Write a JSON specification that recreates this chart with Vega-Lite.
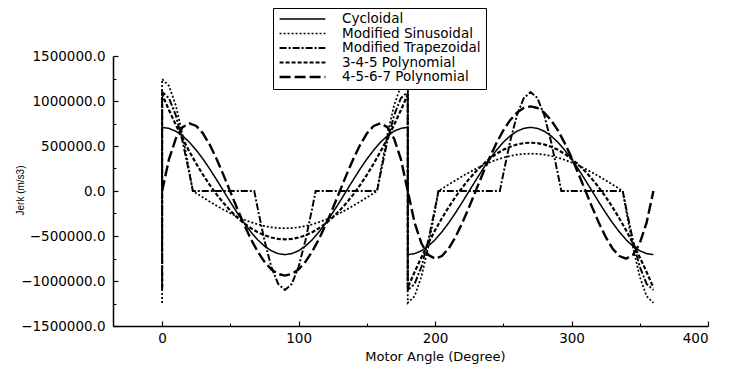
{
  "$schema": "https://vega.github.io/schema/vega-lite/v6.json",
  "width": 595,
  "height": 270,
  "autosize": {"type": "none"},
  "padding": {"left": 113, "top": 56, "right": 35, "bottom": 44},
  "background": "white",
  "config": {
    "view": {"stroke": null},
    "font": "DejaVu Sans"
  },
  "data": {"values": [
    {"s":"C","a":0,"j":-707000,"o":-1},
    {"s":"C","a":0,"j":707000,"o":0},{"s":"C","a":5,"j":696000,"o":5},{"s":"C","a":10,"j":664000,"o":10},{"s":"C","a":15,"j":612000,"o":15},{"s":"C","a":20,"j":542000,"o":20},{"s":"C","a":25,"j":454000,"o":25},{"s":"C","a":30,"j":354000,"o":30},{"s":"C","a":35,"j":242000,"o":35},{"s":"C","a":40,"j":123000,"o":40},{"s":"C","a":45,"j":0,"o":45},{"s":"C","a":50,"j":-123000,"o":50},{"s":"C","a":55,"j":-242000,"o":55},{"s":"C","a":60,"j":-354000,"o":60},{"s":"C","a":65,"j":-454000,"o":65},{"s":"C","a":70,"j":-542000,"o":70},{"s":"C","a":75,"j":-612000,"o":75},{"s":"C","a":80,"j":-664000,"o":80},{"s":"C","a":85,"j":-696000,"o":85},{"s":"C","a":90,"j":-707000,"o":90},{"s":"C","a":95,"j":-696000,"o":95},{"s":"C","a":100,"j":-664000,"o":100},{"s":"C","a":105,"j":-612000,"o":105},{"s":"C","a":110,"j":-542000,"o":110},{"s":"C","a":115,"j":-454000,"o":115},{"s":"C","a":120,"j":-354000,"o":120},{"s":"C","a":125,"j":-242000,"o":125},{"s":"C","a":130,"j":-123000,"o":130},{"s":"C","a":135,"j":0,"o":135},{"s":"C","a":140,"j":123000,"o":140},{"s":"C","a":145,"j":242000,"o":145},{"s":"C","a":150,"j":354000,"o":150},{"s":"C","a":155,"j":454000,"o":155},{"s":"C","a":160,"j":542000,"o":160},{"s":"C","a":165,"j":612000,"o":165},{"s":"C","a":170,"j":664000,"o":170},{"s":"C","a":175,"j":696000,"o":175},{"s":"C","a":180,"j":707000,"o":180},
    {"s":"C","a":180,"j":-707000,"o":180.5},{"s":"C","a":185,"j":-696000,"o":185},{"s":"C","a":190,"j":-664000,"o":190},{"s":"C","a":195,"j":-612000,"o":195},{"s":"C","a":200,"j":-542000,"o":200},{"s":"C","a":205,"j":-454000,"o":205},{"s":"C","a":210,"j":-354000,"o":210},{"s":"C","a":215,"j":-242000,"o":215},{"s":"C","a":220,"j":-123000,"o":220},{"s":"C","a":225,"j":0,"o":225},{"s":"C","a":230,"j":123000,"o":230},{"s":"C","a":235,"j":242000,"o":235},{"s":"C","a":240,"j":354000,"o":240},{"s":"C","a":245,"j":454000,"o":245},{"s":"C","a":250,"j":542000,"o":250},{"s":"C","a":255,"j":612000,"o":255},{"s":"C","a":260,"j":664000,"o":260},{"s":"C","a":265,"j":696000,"o":265},{"s":"C","a":270,"j":707000,"o":270},{"s":"C","a":275,"j":696000,"o":275},{"s":"C","a":280,"j":664000,"o":280},{"s":"C","a":285,"j":612000,"o":285},{"s":"C","a":290,"j":542000,"o":290},{"s":"C","a":295,"j":454000,"o":295},{"s":"C","a":300,"j":354000,"o":300},{"s":"C","a":305,"j":242000,"o":305},{"s":"C","a":310,"j":123000,"o":310},{"s":"C","a":315,"j":0,"o":315},{"s":"C","a":320,"j":-123000,"o":320},{"s":"C","a":325,"j":-242000,"o":325},{"s":"C","a":330,"j":-354000,"o":330},{"s":"C","a":335,"j":-454000,"o":335},{"s":"C","a":340,"j":-542000,"o":340},{"s":"C","a":345,"j":-612000,"o":345},{"s":"C","a":350,"j":-664000,"o":350},{"s":"C","a":355,"j":-696000,"o":355},{"s":"C","a":360,"j":-707000,"o":360},

    {"s":"MS","a":0,"j":-1243500,"o":-1},
    {"s":"MS","a":0,"j":1243500,"o":0},{"s":"MS","a":5,"j":1168500,"o":5},{"s":"MS","a":10,"j":952500,"o":10},{"s":"MS","a":15,"j":621800,"o":15},{"s":"MS","a":20,"j":215900,"o":20},{"s":"MS","a":22.5,"j":0,"o":22.5},{"s":"MS","a":25,"j":-24100,"o":25},{"s":"MS","a":30,"j":-72000,"o":30},{"s":"MS","a":35,"j":-118900,"o":35},{"s":"MS","a":40,"j":-164200,"o":40},{"s":"MS","a":45,"j":-207300,"o":45},{"s":"MS","a":50,"j":-247500,"o":50},{"s":"MS","a":55,"j":-284500,"o":55},{"s":"MS","a":60,"j":-317500,"o":60},{"s":"MS","a":65,"j":-346300,"o":65},{"s":"MS","a":70,"j":-370400,"o":70},{"s":"MS","a":75,"j":-389500,"o":75},{"s":"MS","a":80,"j":-403300,"o":80},{"s":"MS","a":85,"j":-411700,"o":85},{"s":"MS","a":90,"j":-414500,"o":90},{"s":"MS","a":95,"j":-411700,"o":95},{"s":"MS","a":100,"j":-403300,"o":100},{"s":"MS","a":105,"j":-389500,"o":105},{"s":"MS","a":110,"j":-370400,"o":110},{"s":"MS","a":115,"j":-346300,"o":115},{"s":"MS","a":120,"j":-317500,"o":120},{"s":"MS","a":125,"j":-284500,"o":125},{"s":"MS","a":130,"j":-247500,"o":130},{"s":"MS","a":135,"j":-207300,"o":135},{"s":"MS","a":140,"j":-164200,"o":140},{"s":"MS","a":145,"j":-118900,"o":145},{"s":"MS","a":150,"j":-72000,"o":150},{"s":"MS","a":155,"j":-24100,"o":155},{"s":"MS","a":157.5,"j":0,"o":157.5},{"s":"MS","a":160,"j":215900,"o":160},{"s":"MS","a":165,"j":621800,"o":165},{"s":"MS","a":170,"j":952500,"o":170},{"s":"MS","a":175,"j":1168500,"o":175},{"s":"MS","a":180,"j":1243500,"o":180},
    {"s":"MS","a":180,"j":-1243500,"o":180.5},{"s":"MS","a":185,"j":-1168500,"o":185},{"s":"MS","a":190,"j":-952500,"o":190},{"s":"MS","a":195,"j":-621800,"o":195},{"s":"MS","a":200,"j":-215900,"o":200},{"s":"MS","a":202.5,"j":0,"o":202.5},{"s":"MS","a":205,"j":24100,"o":205},{"s":"MS","a":210,"j":72000,"o":210},{"s":"MS","a":215,"j":118900,"o":215},{"s":"MS","a":220,"j":164200,"o":220},{"s":"MS","a":225,"j":207300,"o":225},{"s":"MS","a":230,"j":247500,"o":230},{"s":"MS","a":235,"j":284500,"o":235},{"s":"MS","a":240,"j":317500,"o":240},{"s":"MS","a":245,"j":346300,"o":245},{"s":"MS","a":250,"j":370400,"o":250},{"s":"MS","a":255,"j":389500,"o":255},{"s":"MS","a":260,"j":403300,"o":260},{"s":"MS","a":265,"j":411700,"o":265},{"s":"MS","a":270,"j":414500,"o":270},{"s":"MS","a":275,"j":411700,"o":275},{"s":"MS","a":280,"j":403300,"o":280},{"s":"MS","a":285,"j":389500,"o":285},{"s":"MS","a":290,"j":370400,"o":290},{"s":"MS","a":295,"j":346300,"o":295},{"s":"MS","a":300,"j":317500,"o":300},{"s":"MS","a":305,"j":284500,"o":305},{"s":"MS","a":310,"j":247500,"o":310},{"s":"MS","a":315,"j":207300,"o":315},{"s":"MS","a":320,"j":164200,"o":320},{"s":"MS","a":325,"j":118900,"o":325},{"s":"MS","a":330,"j":72000,"o":330},{"s":"MS","a":335,"j":24100,"o":335},{"s":"MS","a":337.5,"j":0,"o":337.5},{"s":"MS","a":340,"j":-215900,"o":340},{"s":"MS","a":345,"j":-621800,"o":345},{"s":"MS","a":350,"j":-952500,"o":350},{"s":"MS","a":355,"j":-1168500,"o":355},{"s":"MS","a":360,"j":-1243500,"o":360},

    {"s":"MT","a":0,"j":-1099000,"o":-1},
    {"s":"MT","a":0,"j":1099000,"o":0},{"s":"MT","a":5,"j":1032700,"o":5},{"s":"MT","a":10,"j":841800,"o":10},{"s":"MT","a":15,"j":549500,"o":15},{"s":"MT","a":20,"j":190800,"o":20},{"s":"MT","a":22.5,"j":0,"o":22.5},{"s":"MT","a":67.5,"j":0,"o":67.5},{"s":"MT","a":70,"j":-190800,"o":70},{"s":"MT","a":75,"j":-549500,"o":75},{"s":"MT","a":80,"j":-841800,"o":80},{"s":"MT","a":85,"j":-1032700,"o":85},{"s":"MT","a":90,"j":-1099000,"o":90},{"s":"MT","a":95,"j":-1032700,"o":95},{"s":"MT","a":100,"j":-841800,"o":100},{"s":"MT","a":105,"j":-549500,"o":105},{"s":"MT","a":110,"j":-190800,"o":110},{"s":"MT","a":112.5,"j":0,"o":112.5},{"s":"MT","a":157.5,"j":0,"o":157.5},{"s":"MT","a":160,"j":190800,"o":160},{"s":"MT","a":165,"j":549500,"o":165},{"s":"MT","a":170,"j":841800,"o":170},{"s":"MT","a":175,"j":1032700,"o":175},{"s":"MT","a":180,"j":1099000,"o":180},
    {"s":"MT","a":180,"j":-1099000,"o":180.5},{"s":"MT","a":185,"j":-1032700,"o":185},{"s":"MT","a":190,"j":-841800,"o":190},{"s":"MT","a":195,"j":-549500,"o":195},{"s":"MT","a":200,"j":-190800,"o":200},{"s":"MT","a":202.5,"j":0,"o":202.5},{"s":"MT","a":247.5,"j":0,"o":247.5},{"s":"MT","a":250,"j":190800,"o":250},{"s":"MT","a":255,"j":549500,"o":255},{"s":"MT","a":260,"j":841800,"o":260},{"s":"MT","a":265,"j":1032700,"o":265},{"s":"MT","a":270,"j":1099000,"o":270},{"s":"MT","a":275,"j":1032700,"o":275},{"s":"MT","a":280,"j":841800,"o":280},{"s":"MT","a":285,"j":549500,"o":285},{"s":"MT","a":290,"j":190800,"o":290},{"s":"MT","a":292.5,"j":0,"o":292.5},{"s":"MT","a":337.5,"j":0,"o":337.5},{"s":"MT","a":340,"j":-190800,"o":340},{"s":"MT","a":345,"j":-549500,"o":345},{"s":"MT","a":350,"j":-841800,"o":350},{"s":"MT","a":355,"j":-1032700,"o":355},{"s":"MT","a":360,"j":-1099000,"o":360},

    {"s":"P3","a":0,"j":-1074000,"o":-1},
    {"s":"P3","a":0,"j":1074000,"o":0},{"s":"P3","a":5,"j":900000,"o":5},{"s":"P3","a":10,"j":735900,"o":10},{"s":"P3","a":15,"j":581800,"o":15},{"s":"P3","a":20,"j":437500,"o":20},{"s":"P3","a":25,"j":303300,"o":25},{"s":"P3","a":30,"j":179000,"o":30},{"s":"P3","a":35,"j":64600,"o":35},{"s":"P3","a":40,"j":-39800,"o":40},{"s":"P3","a":45,"j":-134300,"o":45},{"s":"P3","a":50,"j":-218800,"o":50},{"s":"P3","a":55,"j":-293400,"o":55},{"s":"P3","a":60,"j":-358000,"o":60},{"s":"P3","a":65,"j":-412700,"o":65},{"s":"P3","a":70,"j":-457500,"o":70},{"s":"P3","a":75,"j":-492300,"o":75},{"s":"P3","a":80,"j":-517100,"o":80},{"s":"P3","a":85,"j":-532000,"o":85},{"s":"P3","a":90,"j":-537000,"o":90},{"s":"P3","a":95,"j":-532000,"o":95},{"s":"P3","a":100,"j":-517100,"o":100},{"s":"P3","a":105,"j":-492300,"o":105},{"s":"P3","a":110,"j":-457500,"o":110},{"s":"P3","a":115,"j":-412700,"o":115},{"s":"P3","a":120,"j":-358000,"o":120},{"s":"P3","a":125,"j":-293400,"o":125},{"s":"P3","a":130,"j":-218800,"o":130},{"s":"P3","a":135,"j":-134300,"o":135},{"s":"P3","a":140,"j":-39800,"o":140},{"s":"P3","a":145,"j":64600,"o":145},{"s":"P3","a":150,"j":179000,"o":150},{"s":"P3","a":155,"j":303300,"o":155},{"s":"P3","a":160,"j":437500,"o":160},{"s":"P3","a":165,"j":581800,"o":165},{"s":"P3","a":170,"j":735900,"o":170},{"s":"P3","a":175,"j":900000,"o":175},{"s":"P3","a":180,"j":1074000,"o":180},
    {"s":"P3","a":180,"j":-1074000,"o":180.5},{"s":"P3","a":185,"j":-900000,"o":185},{"s":"P3","a":190,"j":-735900,"o":190},{"s":"P3","a":195,"j":-581800,"o":195},{"s":"P3","a":200,"j":-437500,"o":200},{"s":"P3","a":205,"j":-303300,"o":205},{"s":"P3","a":210,"j":-179000,"o":210},{"s":"P3","a":215,"j":-64600,"o":215},{"s":"P3","a":220,"j":39800,"o":220},{"s":"P3","a":225,"j":134300,"o":225},{"s":"P3","a":230,"j":218800,"o":230},{"s":"P3","a":235,"j":293400,"o":235},{"s":"P3","a":240,"j":358000,"o":240},{"s":"P3","a":245,"j":412700,"o":245},{"s":"P3","a":250,"j":457500,"o":250},{"s":"P3","a":255,"j":492300,"o":255},{"s":"P3","a":260,"j":517100,"o":260},{"s":"P3","a":265,"j":532000,"o":265},{"s":"P3","a":270,"j":537000,"o":270},{"s":"P3","a":275,"j":532000,"o":275},{"s":"P3","a":280,"j":517100,"o":280},{"s":"P3","a":285,"j":492300,"o":285},{"s":"P3","a":290,"j":457500,"o":290},{"s":"P3","a":295,"j":412700,"o":295},{"s":"P3","a":300,"j":358000,"o":300},{"s":"P3","a":305,"j":293400,"o":305},{"s":"P3","a":310,"j":218800,"o":310},{"s":"P3","a":315,"j":134300,"o":315},{"s":"P3","a":320,"j":39800,"o":320},{"s":"P3","a":325,"j":-64600,"o":325},{"s":"P3","a":330,"j":-179000,"o":330},{"s":"P3","a":335,"j":-303300,"o":335},{"s":"P3","a":340,"j":-437500,"o":340},{"s":"P3","a":345,"j":-581800,"o":345},{"s":"P3","a":350,"j":-735900,"o":350},{"s":"P3","a":355,"j":-900000,"o":355},{"s":"P3","a":360,"j":-1074000,"o":360},

    {"s":"P4","a":0,"j":0,"o":0},{"s":"P4","a":5,"j":351200,"o":5},{"s":"P4","a":10,"j":581900,"o":10},{"s":"P4","a":15,"j":709900,"o":15},{"s":"P4","a":20,"j":751700,"o":20},{"s":"P4","a":25,"j":722900,"o":25},{"s":"P4","a":30,"j":638100,"o":30},{"s":"P4","a":35,"j":510700,"o":35},{"s":"P4","a":40,"j":352900,"o":40},{"s":"P4","a":45,"j":176200,"o":45},{"s":"P4","a":50,"j":-9300,"o":50},{"s":"P4","a":55,"j":-194500,"o":55},{"s":"P4","a":60,"j":-371300,"o":60},{"s":"P4","a":65,"j":-532700,"o":65},{"s":"P4","a":70,"j":-672700,"o":70},{"s":"P4","a":75,"j":-786800,"o":75},{"s":"P4","a":80,"j":-870800,"o":80},{"s":"P4","a":85,"j":-922400,"o":85},{"s":"P4","a":90,"j":-939800,"o":90},{"s":"P4","a":95,"j":-922400,"o":95},{"s":"P4","a":100,"j":-870800,"o":100},{"s":"P4","a":105,"j":-786800,"o":105},{"s":"P4","a":110,"j":-672700,"o":110},{"s":"P4","a":115,"j":-532700,"o":115},{"s":"P4","a":120,"j":-371300,"o":120},{"s":"P4","a":125,"j":-194500,"o":125},{"s":"P4","a":130,"j":-9300,"o":130},{"s":"P4","a":135,"j":176200,"o":135},{"s":"P4","a":140,"j":352900,"o":140},{"s":"P4","a":145,"j":510700,"o":145},{"s":"P4","a":150,"j":638100,"o":150},{"s":"P4","a":155,"j":722900,"o":155},{"s":"P4","a":160,"j":751700,"o":160},{"s":"P4","a":165,"j":709900,"o":165},{"s":"P4","a":170,"j":581900,"o":170},{"s":"P4","a":175,"j":351200,"o":175},{"s":"P4","a":180,"j":0,"o":180},
    {"s":"P4","a":185,"j":-351200,"o":185},{"s":"P4","a":190,"j":-581900,"o":190},{"s":"P4","a":195,"j":-709900,"o":195},{"s":"P4","a":200,"j":-751700,"o":200},{"s":"P4","a":205,"j":-722900,"o":205},{"s":"P4","a":210,"j":-638100,"o":210},{"s":"P4","a":215,"j":-510700,"o":215},{"s":"P4","a":220,"j":-352900,"o":220},{"s":"P4","a":225,"j":-176200,"o":225},{"s":"P4","a":230,"j":9300,"o":230},{"s":"P4","a":235,"j":194500,"o":235},{"s":"P4","a":240,"j":371300,"o":240},{"s":"P4","a":245,"j":532700,"o":245},{"s":"P4","a":250,"j":672700,"o":250},{"s":"P4","a":255,"j":786800,"o":255},{"s":"P4","a":260,"j":870800,"o":260},{"s":"P4","a":265,"j":922400,"o":265},{"s":"P4","a":270,"j":939800,"o":270},{"s":"P4","a":275,"j":922400,"o":275},{"s":"P4","a":280,"j":870800,"o":280},{"s":"P4","a":285,"j":786800,"o":285},{"s":"P4","a":290,"j":672700,"o":290},{"s":"P4","a":295,"j":532700,"o":295},{"s":"P4","a":300,"j":371300,"o":300},{"s":"P4","a":305,"j":194500,"o":305},{"s":"P4","a":310,"j":9300,"o":310},{"s":"P4","a":315,"j":-176200,"o":315},{"s":"P4","a":320,"j":-352900,"o":320},{"s":"P4","a":325,"j":-510700,"o":325},{"s":"P4","a":330,"j":-638100,"o":330},{"s":"P4","a":335,"j":-722900,"o":335},{"s":"P4","a":340,"j":-751700,"o":340},{"s":"P4","a":345,"j":-709900,"o":345},{"s":"P4","a":350,"j":-581900,"o":350},{"s":"P4","a":355,"j":-351200,"o":355},{"s":"P4","a":360,"j":0,"o":360}
  ]},
  "resolve": {"axis": {"x": "independent", "y": "independent"}},
  "layer": [
    {
      "mark": {"type": "line", "color": "black", "strokeCap": "butt", "strokeJoin": "miter"},
      "encoding": {
        "x": {
          "field": "a", "type": "quantitative",
          "scale": {"domain": [-36, 400], "nice": false, "zero": false},
          "axis": {
            "orient": "bottom",
            "values": [0, 100, 200, 300, 400],
            "title": "Motor Angle (Degree)",
            "titleFont": "DejaVu Sans", "titleFontSize": 13, "titleFontWeight": "normal", "titleColor": "black",
            "titleX": 322, "titleY": 30, "titleBaseline": "middle", "titleAnchor": null, "titleAlign": "center",
            "labelFont": "DejaVu Sans", "labelFontSize": 13.5, "labelColor": "black", "labelPadding": 10,
            "domainColor": "black", "domainWidth": 1.5,
            "tickColor": "black", "tickSize": -5, "tickWidth": 1.2,
            "grid": false
          }
        },
        "y": {
          "field": "j", "type": "quantitative",
          "scale": {"domain": [-1500000, 1500000], "nice": false, "zero": false},
          "axis": {
            "orient": "left",
            "values": [-1500000, -1000000, -500000, 0, 500000, 1000000, 1500000],
            "format": ".1f",
            "title": "Jerk (m/s3)",
            "titleFont": "Liberation Sans", "titleFontSize": 10, "titleFontWeight": "normal", "titleColor": "black",
            "titleX": -93, "titleY": 134, "titleAngle": -90, "titleBaseline": "middle", "titleAlign": "center", "titleAnchor": null,
            "labelFont": "DejaVu Sans", "labelFontSize": 13.5, "labelColor": "black", "labelPadding": 13,
            "domainColor": "black", "domainWidth": 1.5,
            "tickColor": "black", "tickSize": -5, "tickWidth": 1.2,
            "grid": false
          }
        },
        "order": {"field": "o", "type": "quantitative"},
        "strokeDash": {
          "field": "s", "type": "nominal",
          "scale": {"domain": ["C", "MS", "MT", "P3", "P4"], "range": [[1, 0], [2, 2], [7, 2, 2, 2], [4, 2], [11, 4]]},
          "legend": {
            "orient": "none", "legendX": 160, "legendY": -48,
            "title": null,
            "labelExpr": "datum.label == 'C' ? 'Cycloidal' : datum.label == 'MS' ? 'Modified Sinusoidal' : datum.label == 'MT' ? 'Modified Trapezoidal' : datum.label == 'P3' ? '3-4-5 Polynomial' : '4-5-6-7 Polynomial'",
            "symbolType": "stroke", "symbolSize": 2100, "symbolStrokeColor": "black",
            "clipHeight": 12,
            "labelFont": "DejaVu Sans", "labelFontSize": 13.5, "labelColor": "black", "labelOffset": 15,
            "rowPadding": 0.5, "padding": 5, "strokeColor": "black", "fillColor": "white"
          }
        },
        "strokeWidth": {
          "field": "s", "type": "nominal",
          "scale": {"domain": ["C", "MS", "MT", "P3", "P4"], "range": [1.5, 2.4, 2.8, 2.8, 3.2]},
          "legend": null
        }
      }
    },
    {
      "mark": {"type": "line", "strokeOpacity": 0},
      "encoding": {
        "x": {
          "field": "a", "type": "quantitative",
          "axis": {
            "orient": "bottom", "values": [50, 150, 250, 350], "labels": false, "domain": false, "title": null,
            "tickColor": "black", "tickSize": -3, "tickWidth": 1, "grid": false
          }
        },
        "y": {
          "field": "j", "type": "quantitative",
          "axis": {
            "orient": "left", "values": [-1250000, -750000, -250000, 250000, 750000, 1250000], "labels": false, "domain": false, "title": null,
            "tickColor": "black", "tickSize": -3, "tickWidth": 1, "grid": false
          }
        },
        "detail": {"field": "s"},
        "order": {"field": "o", "type": "quantitative"}
      }
    }
  ]
}
